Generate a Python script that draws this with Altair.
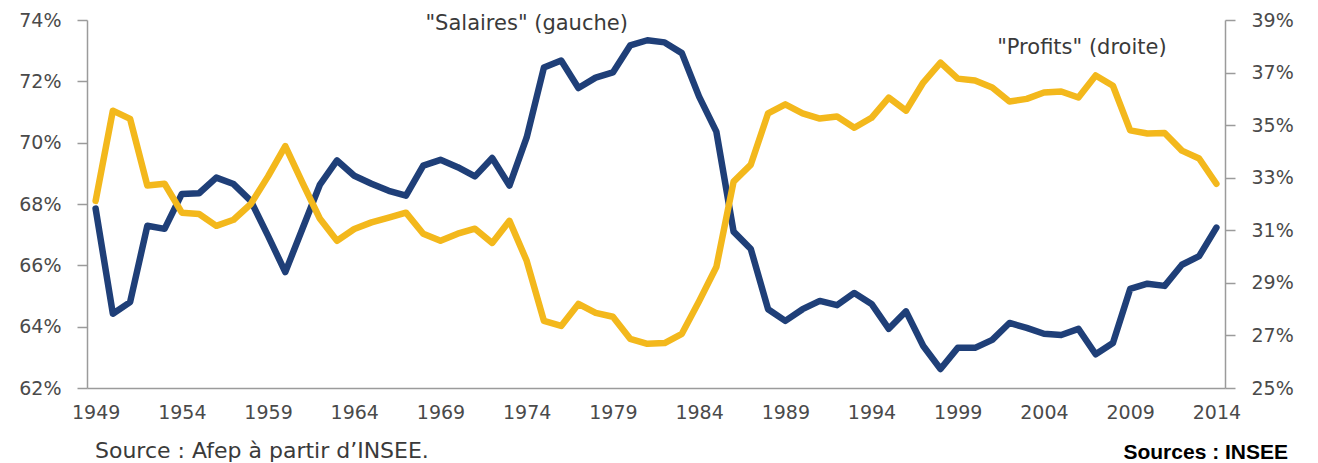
import altair as alt
import pandas as pd

# ---- data ----
years = list(range(1949, 2015))

salaires = [
    67.85, 64.42, 64.80, 67.29, 67.19, 68.33, 68.35, 68.86, 68.65, 68.10,
    66.96, 65.78, 67.20, 68.62, 69.42, 68.92, 68.66, 68.43, 68.27, 69.25,
    69.44, 69.20, 68.90, 69.50, 68.60, 70.17, 72.45, 72.68, 71.78, 72.12,
    72.29, 73.17, 73.34, 73.27, 72.92, 71.50, 70.36, 67.10, 66.53, 64.57,
    64.19, 64.57, 64.84, 64.70, 65.10, 64.74, 63.93, 64.50, 63.37, 62.62,
    63.31, 63.31, 63.57, 64.12, 63.96, 63.77, 63.73, 63.93, 63.10, 63.47,
    65.23, 65.40, 65.33, 66.02, 66.30, 67.23,
]

profits = [
    32.12, 35.55, 35.24, 32.70, 32.77, 31.67, 31.62, 31.17, 31.40, 32.00,
    33.05, 34.20, 32.80, 31.45, 30.60, 31.05, 31.30, 31.48, 31.67, 30.87,
    30.60, 30.87, 31.06, 30.52, 31.36, 29.84, 27.55, 27.36, 28.20, 27.86,
    27.71, 26.87, 26.68, 26.71, 27.06, 28.30, 29.60, 32.85, 33.50, 35.45,
    35.79, 35.45, 35.25, 35.33, 34.90, 35.28, 36.05, 35.55, 36.62, 37.38,
    36.77, 36.70, 36.43, 35.90, 36.00, 36.24, 36.28, 36.05, 36.89, 36.50,
    34.80, 34.68, 34.70, 34.03, 33.73, 32.77,
]

x_ticks = [1949, 1954, 1959, 1964, 1969, 1974, 1979, 1984, 1989, 1994,
           1999, 2004, 2009, 2014]
left_ticks = [62, 64, 66, 68, 70, 72, 74]
right_ticks = [25, 27, 29, 31, 33, 35, 37, 39]

label_salaires = '"Salaires" (gauche)'
label_profits = '"Profits" (droite)'
source_left = "Source : Afep à partir d’INSEE."
source_right = "Sources : INSEE"

assert len(years) == len(salaires) == len(profits)

df = pd.DataFrame({"annee": years, "salaires": salaires, "profits": profits})

# ---- styling ----
BLUE = "#1f3f78"
GOLD = "#f3b81c"
AXIS = "#9b9b9b"
LABEL = "#4a4a4a"
FONT = "DejaVu Sans"
LW = 6.5
TICKFS = 19

x_enc = alt.X(
    "annee:Q",
    scale=alt.Scale(domain=[1948.5, 2014.5], nice=False, zero=False),
    axis=alt.Axis(
        values=x_ticks, format="d", title=None, grid=False, ticks=False,
        labelPadding=15, labelFontSize=TICKFS, labelColor=LABEL, labelFont=FONT,
        domainColor=AXIS, domainWidth=1.5, labelFlush=False, labelOverlap=False,
    ),
)


def y_axis(orient, values):
    return alt.Axis(
        orient=orient, values=values, labelExpr="datum.value + '%'",
        title=None, grid=False, tickSize=10, tickColor=AXIS, tickWidth=1.5,
        domainColor=AXIS, domainWidth=1.5, labelPadding=16, labelFontSize=TICKFS,
        labelColor=LABEL, labelFont=FONT, labelOverlap=False, labelFlush=False,
    )


left_scale = alt.Scale(domain=[62, 74], nice=False, zero=False)
right_scale = alt.Scale(domain=[25, 39], nice=False, zero=False)

sal_line = alt.Chart(df).mark_line(
    color=BLUE, strokeWidth=LW, strokeJoin="round", strokeCap="round"
).encode(
    x=x_enc,
    y=alt.Y("salaires:Q", scale=left_scale, axis=y_axis("left", left_ticks)),
)

sal_text = alt.Chart(pd.DataFrame({"label": [label_salaires]})).mark_text(
    font=FONT, fontSize=21, color="#3a3a3a", align="center", baseline="middle"
).encode(
    x=alt.datum(1974.0),
    y=alt.datum(73.88),
    text="label:N",
)

pro_line = alt.Chart(df).mark_line(
    color=GOLD, strokeWidth=LW, strokeJoin="round", strokeCap="round"
).encode(
    x=x_enc,
    y=alt.Y("profits:Q", scale=right_scale, axis=y_axis("right", right_ticks)),
)

pro_text = alt.Chart(pd.DataFrame({"label": [label_profits]})).mark_text(
    font=FONT, fontSize=21, color="#3a3a3a", align="center", baseline="middle"
).encode(
    x=alt.datum(2006.2),
    y=alt.datum(37.95),
    text="label:N",
)

src_left = alt.Chart(pd.DataFrame({"label": [source_left]})).mark_text(
    font=FONT, fontSize=22, color="#3a3a3a", align="left", baseline="middle"
).encode(
    x=alt.value(8),
    y=alt.value(431),
    text="label:N",
)

src_right = alt.Chart(pd.DataFrame({"label": [source_right]})).mark_text(
    font="Liberation Sans", fontSize=21, fontWeight="bold", color="#000000",
    align="right", baseline="middle"
).encode(
    x=alt.value(1201),
    y=alt.value(433),
    text="label:N",
)

left_group = alt.layer(sal_line, sal_text)
right_group = alt.layer(pro_line, pro_text)

chart = (
    alt.layer(left_group, right_group, src_left, src_right)
    .resolve_scale(y="independent")
    .properties(
        width=1138,
        height=368,
        autosize=alt.AutoSizeParams(type="none"),
        padding={"left": 79, "top": 12, "right": 80, "bottom": 80},
        background="white",
    )
    .configure_view(strokeWidth=0)
)

chart.save("out.html", embed_options={"renderer": "svg", "actions": False})
